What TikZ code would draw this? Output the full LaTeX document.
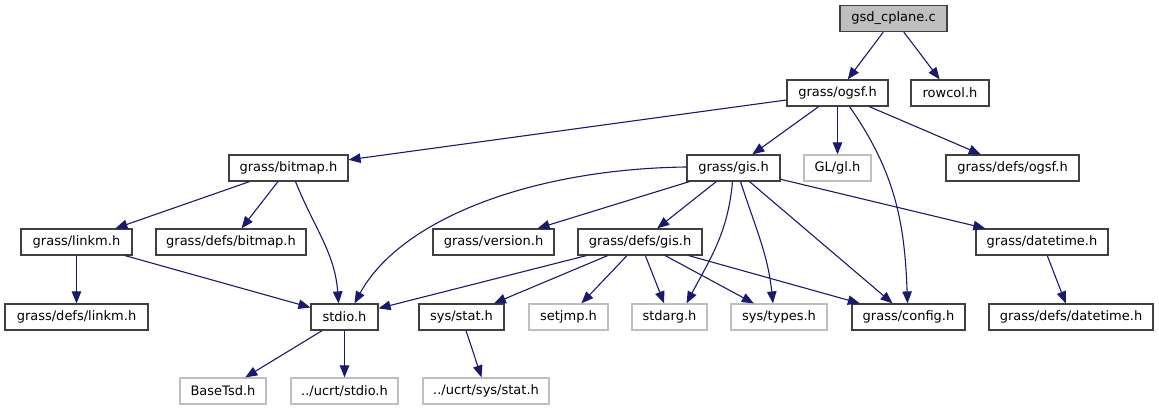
\documentclass[tikz,border=0pt]{standalone}
\usepackage{fontspec}
\setmainfont{DejaVu Sans}
\usepackage{tikz}
\usetikzlibrary{arrows.meta}
\definecolor{edgeblue}{HTML}{191970}
\definecolor{boxline}{HTML}{404040}
\definecolor{nofile}{HTML}{BFBFBF}

\begin{document}
\begin{tikzpicture}[x=1pt,y=-1pt]
\tikzstyle{hdr} = [draw = boxline, line width = 1.2pt, minimum height = 26pt, inner sep = 0pt, font = \fontsize{13pt}{15pt}\selectfont]
\tikzstyle{sys} = [hdr, draw = nofile]
\tikzstyle{edge} = [draw = edgeblue, line width = 1.1pt, -{Triangle[length = 12pt, width = 9.5pt]}]
\useasboundingbox (0,0) rectangle (1159,411);
\node [hdr, fill = nofile, minimum width = 107pt] (cplane) at (893.5,18.5) {gsd\_cplane.c};
\node [hdr, minimum width = 101pt] (ogsf) at (837.5,93) {grass/ogsf.h};
\node [hdr, minimum width = 78pt] (rowcol) at (950,93) {rowcol.h};
\node [hdr, minimum width = 119pt] (bitmap) at (288.5,168) {grass/bitmap.h};
\node [hdr, minimum width = 93pt] (gis) at (733.5,168) {grass/gis.h};
\node [sys, minimum width = 67pt] (gl) at (837.5,168) {GL/gl.h};
\node [hdr, minimum width = 133pt] (defsogsf) at (1012.5,168) {grass/defs/ogsf.h};
\node [hdr, minimum width = 111pt] (linkm) at (76.5,242) {grass/linkm.h};
\node [hdr, minimum width = 150pt] (defsbitmap) at (231,242) {grass/defs/bitmap.h};
\node [hdr, minimum width = 121pt] (version) at (493.5,242) {grass/version.h};
\node [hdr, minimum width = 124pt] (defsgis) at (640,242) {grass/defs/gis.h};
\node [hdr, minimum width = 132pt] (datetime) at (1042,242) {grass/datetime.h};
\node [hdr, minimum width = 143pt] (defslinkm) at (76.5,317) {grass/defs/linkm.h};
\node [hdr, minimum width = 67pt] (stdio) at (344.5,317) {stdio.h};
\node [hdr, minimum width = 85pt] (sysstat) at (461.5,317) {sys/stat.h};
\node [sys, minimum width = 79pt] (setjmp) at (568.5,317) {setjmp.h};
\node [sys, minimum width = 75pt] (stdarg) at (669.5,317) {stdarg.h};
\node [sys, minimum width = 96pt] (systypes) at (779,317) {sys/types.h};
\node [hdr, minimum width = 113pt] (config) at (908.5,317) {grass/config.h};
\node [hdr, minimum width = 164pt] (defsdatetime) at (1071,317) {grass/defs/datetime.h};
\node [sys, minimum width = 86pt] (basetsd) at (223,391) {BaseTsd.h};
\node [sys, minimum width = 107pt] (ucrtstdio) at (344.5,391) {../ucrt/stdio.h};
\node [sys, minimum width = 126pt] (ucrtstat) at (486,391) {../ucrt/sys/stat.h};
\draw [edge] (cplane) -- (ogsf);
\draw [edge] (cplane) -- (rowcol);
\draw [edge] (ogsf) -- (bitmap);
\draw [edge] (ogsf) -- (gis);
\draw [edge] (ogsf) -- (gl);
\draw [edge] (ogsf) -- (defsogsf);
\draw [edge] ([xshift = 12pt]ogsf.south) to [out = -55, in = 92] ([xshift = -1pt]config.north);
\draw [edge] (bitmap) -- (linkm);
\draw [edge] (bitmap) -- (defsbitmap);
\draw [edge] ([xshift = 7pt]bitmap.south) to [out = -68, in = 94] ([xshift = -6pt]stdio.north);
\draw [edge] ([yshift = 1pt]gis.west) .. controls (530,169) and (400,220) .. ([xshift = 10pt]stdio.north);
\draw [edge] (gis) -- (version);
\draw [edge] (gis) -- (defsgis);
\draw [edge] ([xshift = -1pt]gis.south) to [out = -95, in = 62] ([xshift = 17pt]stdarg.north);
\draw [edge] ([xshift = 7pt]gis.south) to [out = -72, in = 96] ([xshift = -6pt]systypes.north);
\draw [edge] (gis) -- (config);
\draw [edge] (gis) -- (datetime);
\draw [edge] (linkm) -- (defslinkm);
\draw [edge] (linkm) -- (stdio);
\draw [edge] (defsgis) -- (stdio);
\draw [edge] (defsgis) -- (sysstat);
\draw [edge] (defsgis) -- (setjmp);
\draw [edge] (defsgis) -- (stdarg);
\draw [edge] (defsgis) -- (systypes);
\draw [edge] (defsgis) -- (config);
\draw [edge] (datetime) -- (defsdatetime);
\draw [edge] (stdio) -- (basetsd);
\draw [edge] (stdio) -- (ucrtstdio);
\draw [edge] (sysstat) -- (ucrtstat);
\end{tikzpicture}
\end{document}
